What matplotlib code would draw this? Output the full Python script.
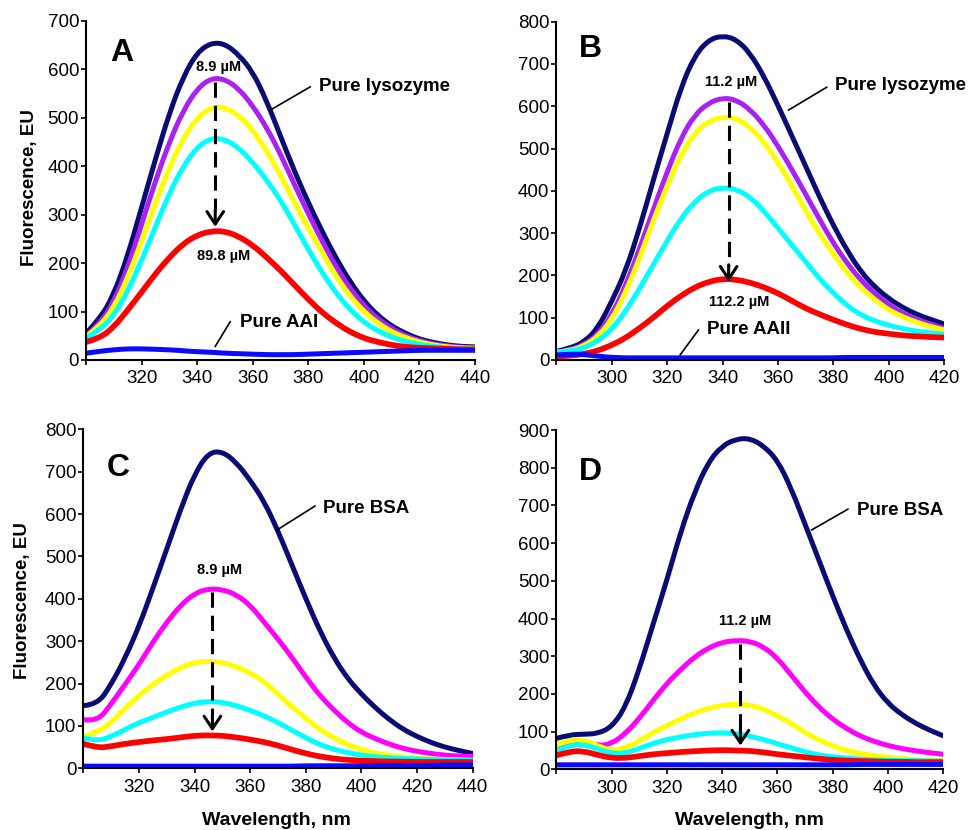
import matplotlib
matplotlib.use("Agg")
import matplotlib.pyplot as plt
from matplotlib.path import Path
from matplotlib.patches import PathPatch

plt.rcParams['font.family'] = ['Liberation Sans', 'DejaVu Sans']

# ---------------- data ----------------
wl_AC = list(range(300, 445, 5))
wl_BD = list(range(280, 425, 5))

# Panel A (lysozyme + AAI)
A_pure = [55, 85, 135, 215, 315, 415, 510, 585, 635, 655, 653, 630, 595, 535, 462,
          390, 325, 265, 210, 162, 122, 92, 70, 55, 43, 36, 31, 28, 27]
A_c1 = [50, 75, 120, 190, 280, 370, 450, 515, 560, 582, 580, 560, 525, 480, 425,
        362, 302, 245, 192, 148, 112, 85, 65, 50, 40, 33, 29, 26, 25]
A_c2 = [48, 70, 108, 170, 245, 325, 398, 458, 500, 522, 522, 505, 475, 432, 382,
        325, 272, 222, 172, 132, 100, 76, 58, 46, 37, 31, 27, 25, 24]
A_c3 = [45, 62, 92, 142, 205, 275, 345, 400, 440, 458, 456, 438, 408, 372, 330,
        280, 228, 180, 138, 104, 78, 60, 47, 38, 32, 28, 25, 23, 22]
A_c4 = [37, 45, 68, 103, 140, 178, 212, 240, 258, 266, 266, 255, 237, 212, 185,
        155, 125, 98, 76, 58, 45, 37, 31, 27, 25, 24, 23, 22, 22]
A_drug = [14, 18, 21, 23, 23, 22, 21, 19, 17, 16, 14, 13, 12, 11, 11,
          11, 12, 13, 14, 15, 16, 17, 18, 19, 20, 20, 20, 20, 20]

# Panel B (lysozyme + AAII)
B_pure = [20, 28, 42, 75, 138, 210, 310, 425, 535, 645, 720, 757, 767, 758, 725,
          670, 602, 530, 458, 385, 318, 258, 208, 172, 145, 124, 108, 96, 85]
B_c1 = [18, 24, 36, 60, 106, 175, 262, 355, 445, 525, 580, 608, 620, 615, 592,
        555, 506, 450, 392, 332, 276, 228, 188, 156, 130, 110, 96, 85, 75]
B_c2 = [18, 22, 33, 55, 95, 160, 240, 330, 412, 485, 538, 565, 575, 572, 550,
        515, 467, 412, 352, 298, 250, 205, 170, 142, 118, 102, 89, 79, 71]
B_c3 = [18, 21, 28, 45, 72, 115, 168, 225, 282, 335, 375, 400, 408, 404, 385,
        352, 312, 272, 232, 192, 158, 128, 106, 92, 82, 74, 68, 64, 61]
B_c4 = [8, 10, 14, 22, 35, 52, 75, 100, 128, 152, 172, 185, 192, 190, 183,
        172, 158, 140, 122, 108, 95, 83, 73, 66, 62, 58, 56, 54, 53]
B_drug = [12, 14, 13, 9, 6, 5, 5, 5, 5, 5, 5, 5, 5, 5, 5,
          5, 5, 5, 5, 5, 5, 6, 6, 6, 6, 6, 6, 6, 6]

# Panel C (BSA + AAI)
C_pure = [148, 150, 198, 260, 335, 425, 518, 612, 695, 745, 748, 722, 680, 630, 560,
          480, 400, 325, 262, 212, 175, 143, 115, 92, 75, 61, 50, 42, 35]
C_c1 = [115, 110, 152, 198, 245, 298, 345, 385, 413, 424, 422, 410, 385, 345, 305,
        262, 215, 172, 138, 108, 85, 70, 57, 47, 40, 35, 31, 29, 28]
C_c2 = [75, 85, 108, 142, 172, 198, 220, 238, 250, 253, 250, 240, 225, 205, 175,
        145, 118, 92, 72, 56, 44, 36, 30, 27, 24, 22, 21, 20, 19]
C_c3 = [72, 64, 75, 92, 108, 120, 133, 145, 154, 158, 156, 148, 137, 124, 108,
        90, 72, 56, 45, 37, 31, 27, 25, 23, 22, 21, 20, 19, 18]
C_c4 = [58, 48, 52, 58, 62, 66, 69, 73, 77, 78, 77, 73, 68, 62, 54,
        44, 35, 28, 23, 20, 18, 17, 16, 16, 15, 15, 15, 15, 15]
C_drug = [5, 5, 5, 5, 5, 5, 5, 5, 5, 5, 5, 5, 5, 5, 5,
          5, 6, 6, 6, 6, 6, 7, 7, 7, 7, 7, 8, 8, 8]

# Panel D (BSA + AAII)
D_pure = [82, 92, 93, 95, 112, 165, 265, 385, 502, 630, 735, 815, 858, 876, 878,
          858, 820, 745, 650, 555, 460, 370, 290, 222, 175, 145, 122, 104, 89]
D_c1 = [60, 70, 75, 62, 68, 95, 135, 183, 228, 265, 298, 322, 337, 342, 340,
        325, 295, 250, 205, 165, 133, 108, 88, 74, 63, 55, 49, 44, 40]
D_c2 = [65, 78, 78, 62, 50, 57, 75, 98, 116, 134, 150, 162, 170, 173, 171,
        160, 142, 122, 97, 78, 62, 50, 42, 36, 32, 29, 26, 24, 23]
D_c3 = [50, 64, 66, 54, 42, 43, 55, 69, 79, 86, 92, 96, 97, 95, 88,
        79, 68, 57, 46, 38, 33, 30, 27, 25, 24, 23, 23, 22, 22]
D_c4 = [37, 48, 48, 38, 30, 30, 35, 40, 43, 46, 48, 50, 51, 50, 49,
        45, 40, 36, 32, 28, 25, 23, 22, 21, 20, 20, 19, 19, 19]
D_drug = [12, 12, 12, 12, 12, 12, 12, 12, 12, 12, 12, 12, 12, 12, 12,
          12, 12, 12, 12, 12, 12, 12, 13, 13, 13, 13, 13, 13, 13]

xticks_AC = [300, 320, 340, 360, 380, 400, 420, 440]
xtick_labels_AC = ['', '320', '340', '360', '380', '400', '420', '440']
xticks_BD = [280, 300, 320, 340, 360, 380, 400, 420]
xtick_labels_BD = ['', '300', '320', '340', '360', '380', '400', '420']

# ---------------- styling ----------------
NAVY = '#0b0b74'
VIOLET = '#aa22f0'
MAGENTA = '#ff00ff'
YELLOW = '#ffff00'
CYAN = '#00ffff'
RED = '#ff0000'
BLUE = '#0a0aff'

fig = plt.figure(figsize=(9.73, 8.30), dpi=100)

axA = fig.add_axes([0.0884, 0.5663, 0.3998, 0.4084])
axB = fig.add_axes([0.5717, 0.5663, 0.3988, 0.4076])
axC = fig.add_axes([0.0857, 0.0743, 0.4001, 0.4084])
axD = fig.add_axes([0.5718, 0.0731, 0.3976, 0.4088])

LW = 3.6


def style(ax, xlim, ylim, xticks, xlabels, ystep):
    ax.set_xlim(*xlim)
    ax.set_ylim(*ylim)
    for s in ['top', 'right']:
        ax.spines[s].set_visible(False)
    for s in ['left', 'bottom']:
        ax.spines[s].set_linewidth(1.5)
        ax.spines[s].set_color('black')
        ax.spines[s].set_zorder(3)
    ax.set_xticks(xticks)
    ax.set_xticklabels(xlabels)
    ax.set_yticks(list(range(ylim[0], ylim[1] + 1, ystep)))
    ax.tick_params(axis='both', direction='out', length=3.5, width=1.2,
                   labelsize=13.5, colors='black')
    ax.tick_params(axis='y', pad=1.5)
    ax.tick_params(axis='x', pad=4)


def smooth_line(ax, x, y, color, lw):
    """Draw the measured points as a smooth curve (quadratic Bezier through midpoints)."""
    verts = [(x[0], y[0])]
    codes = [Path.MOVETO]
    for i in range(1, len(x) - 1):
        verts.append((x[i], y[i]))
        verts.append(((x[i] + x[i + 1]) / 2.0, (y[i] + y[i + 1]) / 2.0))
        codes += [Path.CURVE3, Path.CURVE3]
    verts.append((x[-1], y[-1]))
    codes.append(Path.LINETO)
    patch = PathPatch(Path(verts, codes), facecolor='none', edgecolor=color,
                      lw=lw, capstyle='round', joinstyle='round')
    ax.add_patch(patch)


def curves(ax, wl, series, colors):
    for ys, c in zip(series, colors):
        lw = LW + 0.5 if c == RED else LW
        smooth_line(ax, wl, ys, c, lw)


def arrow(ax, x, ytop, ytip, head_span):
    ax.plot([x, x], [ytop, ytip + head_span], color='black', lw=2.2,
            ls=(0, (5, 2.6)), dash_capstyle='butt')
    ax.annotate('', xy=(x, ytip), xytext=(x, ytip + head_span),
                arrowprops=dict(arrowstyle='->,head_length=0.45,head_width=0.3',
                                color='black', lw=2.2, shrinkA=0, shrinkB=0,
                                mutation_scale=20))


def leader(ax, p0, p1):
    ax.plot([p0[0], p1[0]], [p0[1], p1[1]], color='black', lw=1.2)


BOLD = dict(fontweight='bold', color='black')

# ---- Panel A ----
curves(axA, wl_AC, [A_pure, A_c1, A_c2, A_c3, A_c4, A_drug],
       [NAVY, VIOLET, YELLOW, CYAN, RED, BLUE])
style(axA, (300, 440), (0, 700), xticks_AC, xtick_labels_AC, 100)
axA.text(308.6, 633, 'A', fontsize=23, ha='left', va='center', **BOLD)
axA.text(347.7, 605, '8.9 µM', fontsize=10.5, ha='center', va='center', **BOLD)
axA.text(349.5, 215, '89.8 µM', fontsize=10.5, ha='center', va='center', **BOLD)
arrow(axA, 346.5, 573, 275, 35)
axA.text(384, 564, 'Pure lysozyme', fontsize=13.5, ha='left', va='center', **BOLD)
leader(axA, (366.3, 516), (380.7, 564))
axA.text(355.5, 77, 'Pure AAI', fontsize=13.5, ha='left', va='center', **BOLD)
leader(axA, (346.5, 28), (351.9, 79))
axA.set_ylabel('Fluorescence, EU', fontsize=13.5, **BOLD)
axA.yaxis.set_label_coords(-0.145, 0.51)
axA.yaxis.label.set_verticalalignment('center')

# ---- Panel B ----
curves(axB, wl_BD, [B_pure, B_c1, B_c2, B_c3, B_c4, B_drug],
       [NAVY, VIOLET, YELLOW, CYAN, RED, BLUE])
style(axB, (280, 420), (0, 800), xticks_BD, xtick_labels_BD, 100)
axB.text(288, 735, 'B', fontsize=23, ha='left', va='center', **BOLD)
axB.text(343.1, 658, '11.2 µM', fontsize=10.5, ha='center', va='center', **BOLD)
axB.text(346, 138, '112.2 µM', fontsize=10.5, ha='center', va='center', **BOLD)
arrow(axB, 342.2, 611, 185, 40)
axB.text(380.6, 648, 'Pure lysozyme', fontsize=13.5, ha='left', va='center', **BOLD)
leader(axB, (363.8, 591), (377.6, 645))
axB.text(334.3, 71, 'Pure AAII', fontsize=13.5, ha='left', va='center', **BOLD)
leader(axB, (324.7, 12), (331.3, 71))

# ---- Panel C ----
curves(axC, wl_AC, [C_pure, C_c1, C_c2, C_c3, C_c4, C_drug],
       [NAVY, MAGENTA, YELLOW, CYAN, RED, BLUE])
style(axC, (300, 440), (0, 800), xticks_AC, xtick_labels_AC, 100)
axC.text(308.3, 708, 'C', fontsize=23, ha='left', va='center', **BOLD)
axC.text(348.9, 468, '8.9 µM', fontsize=10.5, ha='center', va='center', **BOLD)
arrow(axC, 346.4, 417, 87, 40)
axC.text(386.3, 613, 'Pure BSA', fontsize=13.5, ha='left', va='center', **BOLD)
leader(axC, (369.5, 562), (383.3, 619))
axC.set_ylabel('Fluorescence, EU', fontsize=13.5, **BOLD)
axC.yaxis.set_label_coords(-0.156, 0.496)
axC.yaxis.label.set_verticalalignment('center')
axC.set_xlabel('Wavelength, nm', fontsize=14, **BOLD)
axC.xaxis.set_label_coords(0.497, -0.155)
axC.xaxis.label.set_verticalalignment('center')

# ---- Panel D ----
curves(axD, wl_BD, [D_pure, D_c1, D_c2, D_c3, D_c4, D_drug],
       [NAVY, MAGENTA, YELLOW, CYAN, RED, BLUE])
style(axD, (280, 420), (0, 900), xticks_BD, xtick_labels_BD, 100)
axD.text(288.1, 788, 'D', fontsize=23, ha='left', va='center', **BOLD)
axD.text(348.3, 393, '11.2 µM', fontsize=10.5, ha='center', va='center', **BOLD)
arrow(axD, 346.6, 332, 63, 45)
axD.text(388.9, 686, 'Pure BSA', fontsize=13.5, ha='left', va='center', **BOLD)
leader(axD, (372.4, 635), (385.5, 690))
axD.set_xlabel('Wavelength, nm', fontsize=14, **BOLD)
axD.xaxis.set_label_coords(0.5, -0.151)
axD.xaxis.label.set_verticalalignment('center')

fig.savefig('out.png', dpi=100)
